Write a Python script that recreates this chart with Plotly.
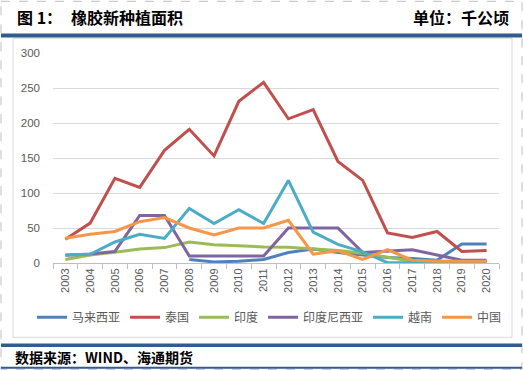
import plotly.graph_objects as go

years = [str(y) for y in range(2003, 2021)]

malaysia = [None, None, None, None, None, 5, 1.5, 2.5, 5, 15, 20, 15, 11, 8, 6.5, 4, 27, 27]
thailand = [34, 57, 121, 108, 161, 191, 153, 231, 258, 206, 219, 145, 118, 43, 36.5, 45, 16.5, 18]
india = [5, 11.5, 15.5, 20, 22, 30, 26, 24, 23, 22.5, 20.5, 18, 14, 8, 2.5, 2.5, 2.5, 2.5]
indonesia = [11, 13, 16.5, 68, 68, 10, 10, 10, 10, 50, 50, 50, 15, 17.5, 19, 11.5, 4, 4]
vietnam = [11.5, 12.5, 30, 41, 35, 78, 56.5, 76, 56.5, 118, 44, 26.5, 16, 0.5, 0.5, 0.5, 0.5, 0.5]
china = [35.5, 41, 45, 59, 65, 50, 40, 50, 50, 61, 12.5, 17.5, 5, 19, 4, 2.5, 2.5, 2.5]

series = [
    ("马来西亚", malaysia, "#4F81BD"),
    ("泰国", thailand, "#C0504D"),
    ("印度", india, "#9BBB59"),
    ("印度尼西亚", indonesia, "#8064A2"),
    ("越南", vietnam, "#4BACC6"),
    ("中国", china, "#F79646"),
]

W_PX, H_PX = 523, 370
L, R, T, B = 53, 499, 52.7, 262.7
PW, PH = R - L, B - T


def px(x):
    return (x - L) / PW


def py(y):
    return (B - y) / PH


fig = go.Figure()
for name, vals, color in series:
    fig.add_trace(go.Scatter(
        x=years, y=vals, name=name, mode="lines",
        line=dict(color=color, width=3),
        connectgaps=False,
    ))

grey = "#595959"
blue = "#315C8E"

shapes = [
    dict(type="rect", xref="paper", yref="paper", x0=px(1), x1=px(522), y0=py(1), y1=py(369),
         line=dict(color="#BFBFBF", width=1, dash="dash"), layer="below"),
    dict(type="rect", xref="paper", yref="paper", x0=px(13), x1=px(512), y0=py(38), y1=py(337),
         line=dict(color="#D9D9D9", width=1), layer="below"),
    dict(type="rect", xref="paper", yref="paper", x0=px(1), x1=px(522), y0=py(33.3), y1=py(37.3),
         line=dict(width=0), fillcolor=blue),
    dict(type="rect", xref="paper", yref="paper", x0=px(1), x1=px(522), y0=py(343.3), y1=py(346.7),
         line=dict(width=0), fillcolor=blue),
    dict(type="rect", xref="paper", yref="paper", x0=px(1), x1=px(522), y0=py(366.5), y1=py(368.5),
         line=dict(width=0), fillcolor=blue),
]

title_font = dict(family="Noto Sans CJK SC", size=16, color="#000000", weight="bold")
annotations = [
    dict(text="图 1：", xref="paper", yref="paper", x=px(15), y=py(17), xanchor="left", yanchor="middle",
         showarrow=False, font=title_font),
    dict(text="橡胶新种植面积", xref="paper", yref="paper", x=px(69), y=py(17), xanchor="left",
         yanchor="middle", showarrow=False, font=title_font),
    dict(text="单位：千公顷", xref="paper", yref="paper", x=px(511), y=py(17), xanchor="right",
         yanchor="middle", showarrow=False, font=title_font),
    dict(text="数据来源：WIND、海通期货", xref="paper", yref="paper", x=px(13), y=py(357), xanchor="left",
         yanchor="middle", showarrow=False,
         font=dict(family="Noto Sans CJK SC", size=14, color="#000000", weight="bold")),
]

fig.update_layout(
    width=W_PX, height=H_PX,
    margin=dict(l=L, r=W_PX - R, t=T, b=H_PX - B, pad=0),
    paper_bgcolor="white", plot_bgcolor="white",
    showlegend=True,
    legend=dict(orientation="h", x=px(32), y=py(317), xanchor="left", yanchor="middle",
                font=dict(family="Noto Sans CJK SC", size=12, color=grey),
                itemwidth=30, tracegroupgap=0, bgcolor="rgba(0,0,0,0)"),
    xaxis=dict(type="category", tickson="boundaries", ticks="outside", ticklen=5,
               tickcolor="#BFBFBF", showline=True, linecolor="#BFBFBF", linewidth=1,
               showgrid=False, tickangle=-90,
               tickfont=dict(family="Liberation Sans", size=11, color=grey),
               range=[-0.5, 17.5], fixedrange=True),
    yaxis=dict(range=[0, 300], dtick=50, tick0=0, showgrid=True, gridcolor="#D9D9D9", gridwidth=1,
               zeroline=False, showline=False, ticks="", ticklabelstandoff=12,
               tickfont=dict(family="Liberation Sans", size=11.5, color=grey), fixedrange=True),
    shapes=shapes,
    annotations=annotations,
)

fig.write_html("out.html", config={"displayModeBar": False},
               post_script="document.body.style.margin='0';")
